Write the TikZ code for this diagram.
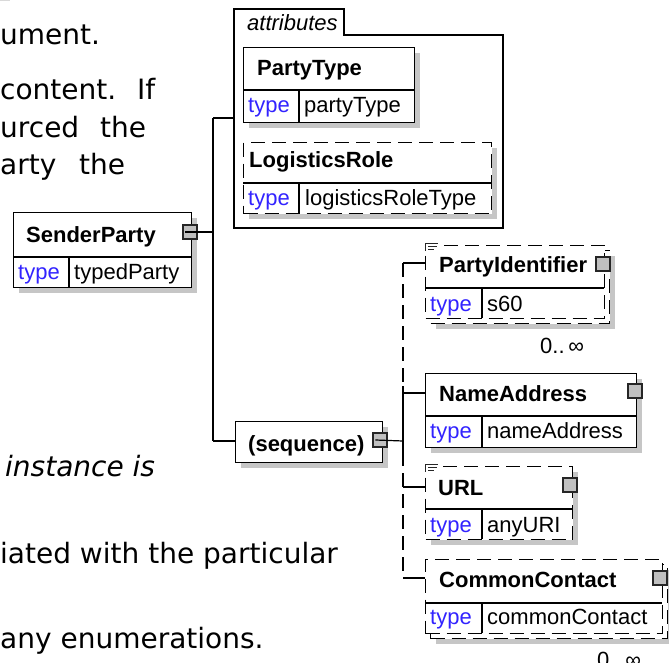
\documentclass[tikz,border=0pt]{standalone}
\usepackage{fontspec}
\newfontfamily\diafont{Liberation Sans}
\newfontfamily\docfont{DejaVu Sans}
\usetikzlibrary{calc,shadows}
\definecolor{typeblue}{RGB}{50,35,255}
\definecolor{shadowgray}{RGB}{198,198,198}
\definecolor{expgray}{RGB}{192,192,192}
\begin{document}
\begin{tikzpicture}[x=1pt,y=-1pt,
  elbox/.style={draw=black, fill=white, line width=1.2pt, inner sep=0, anchor=north west,
     drop shadow={shadow xshift=5pt, shadow yshift=-5pt, fill=shadowgray, opacity=1}},
  plainbox/.style={draw=black, fill=white, line width=1.2pt, inner sep=0, anchor=north west},
  dashbox/.style={dash pattern=on 14pt off 7pt},
  divline/.style={line width=1.1pt},
  conn/.style={line width=1.2pt, draw=black},
  dashconn/.style={line width=1.2pt, draw=black, dash pattern=on 14pt off 7pt},
  expbox/.style={draw=black!85, fill=expgray, line width=1.1pt, minimum width=14pt, minimum height=14pt, inner sep=0},
  ttl/.style={font=\diafont\bfseries\fontsize{22}{26}\selectfont, anchor=base west, inner sep=0},
  typ/.style={font=\diafont\fontsize{22}{26}\selectfont, text=typeblue, anchor=base west, inner sep=0},
  val/.style={font=\diafont\fontsize{22}{26}\selectfont, anchor=base west, inner sep=0},
  attrlbl/.style={font=\diafont\itshape\fontsize{22}{26}\selectfont, anchor=base west, inner sep=0},
  doctext/.style={font=\docfont\fontsize{28}{34}\selectfont, anchor=base west, inner sep=0},
  docit/.style={font=\docfont\itshape\fontsize{28}{34}\selectfont, anchor=base west, inner sep=0},
  docicon/.style={line width=0.9pt, draw=black!85}
]
\useasboundingbox (0,0) rectangle (669,663);
\clip (0,0) rectangle (669,663);

% faint mark at top left
\draw[black!15, line width=1pt] (0,0.5) -- (9,0.5) -- (9,0);

% ---------- document text ----------
\node[doctext] (t1) at (0,45) {ument.};
\node[doctext] (t2a) at (0,100) {content.};
\node[doctext] (t2b) at (137,100) {If};
\node[doctext] (t3a) at (0,138) {urced};
\node[doctext] (t3b) at (100,138) {the};
\node[doctext] (t4a) at (0,175) {arty};
\node[doctext] (t4b) at (79,175) {the};
\node[docit] (t5) at (5,476) {instance is};
\node[doctext] (t6) at (0,563) {iated with the particular};
\node[doctext] (t7) at (0,648) {any enumerations.};

% ---------- SenderParty ----------
\node[elbox, minimum width=178pt, minimum height=75pt] (sp) at (13,212) {};
\draw[divline] (13,257) -- (191,257);
\draw[divline] (69,257) -- (69,287);
\node[ttl] (spt) at (26,242) {SenderParty};
\node[typ] (spk) at (18,279) {type};
\node[val] (spv) at (74,279) {typedParty};
\node[expbox] (spx) at (190,232) {};

% ---------- attributes ----------
\node[minimum width=269pt, minimum height=193pt, inner sep=0, anchor=north west] (attr) at (234,35) {};
\draw[line width=1.2pt, fill=white] (234,9) -- (344,9) -- (344,35) -- (503,35) -- (503,228) -- (234,228) -- cycle;
\node[attrlbl] (attrl) at (247,31) {attributes};

\node[elbox, minimum width=171pt, minimum height=75pt] (pt) at (243,47) {};
\draw[divline] (243,90) -- (414,90);
\draw[divline] (299,90) -- (299,122);
\node[ttl] (ptt) at (257,76) {PartyType};
\node[typ] (ptk) at (248,113) {type};
\node[val] (ptv) at (304,113) {partyType};

\node[elbox, dashbox, minimum width=248pt, minimum height=71pt] (lr) at (243,142) {};
\draw[divline] (243,183) -- (491,183);
\draw[divline] (299,183) -- (299,213);
\node[ttl] (lrt) at (249,168) {LogisticsRole};
\node[typ] (lrk) at (248,205) {type};
\node[val] (lrv) at (305,205) {logisticsRoleType};

% ---------- sequence ----------
\node[elbox, minimum width=147pt, minimum height=41pt] (seq) at (235,421) {};
\node[ttl] (seqt) at (248,451) {(sequence)};
\node[expbox] (seqx) at (380,440) {};

% ---------- PartyIdentifier (stacked, optional) ----------
\node[elbox, dashbox, minimum width=179pt, minimum height=73pt] (piback) at (430,250) {};
\node[plainbox, dashbox, minimum width=179pt, minimum height=73pt] (pi) at (425,245) {};
\draw[divline] (425,288) -- (604,288);
\draw[divline] (482,288) -- (482,318);
\fill[white] (424,241) rectangle (440,252);
\draw[docicon] (425.5,243) -- (425.5,251) (425,243.5) -- (438,243.5) (428,246.5) -- (437,246.5) (428,249.5) -- (434,249.5);
\node[ttl] (pit) at (439,272) {PartyIdentifier};
\node[typ] (pik) at (430,311) {type};
\node[val] (piv) at (487,311) {s60};
\node[expbox] (pix) at (603,264) {};
\node[val] (pim) at (540,353) {0..\,∞};

% ---------- NameAddress ----------
\node[elbox, minimum width=211pt, minimum height=74pt] (na) at (425,373) {};
\draw[divline] (425,416) -- (636,416);
\draw[divline] (482,416) -- (482,447);
\node[ttl] (nat) at (439,401) {NameAddress};
\node[typ] (nak) at (430,438) {type};
\node[val] (nav) at (487,438) {nameAddress};
\node[expbox] (nax) at (635,391) {};

% ---------- URL ----------
\node[elbox, dashbox, minimum width=147pt, minimum height=73pt] (url) at (425,466) {};
\draw[divline] (425,509) -- (572,509);
\draw[divline] (482,509) -- (482,539);
\fill[white] (424,462) rectangle (440,473);
\draw[docicon] (425.5,464) -- (425.5,472) (425,464.5) -- (438,464.5) (428,467.5) -- (437,467.5) (428,470.5) -- (434,470.5);
\node[ttl] (urlt) at (438,495) {URL};
\node[typ] (urlk) at (430,532) {type};
\node[val] (urlv) at (487,532) {anyURI};
\node[expbox] (urlx) at (570,485) {};

% ---------- CommonContact (stacked, optional) ----------
\node[elbox, dashbox, minimum width=237pt, minimum height=74pt] (ccback) at (430,564) {};
\node[plainbox, dashbox, minimum width=237pt, minimum height=74pt] (cc) at (425,559) {};
\draw[divline] (425,603) -- (662,603);
\draw[divline] (482,603) -- (482,633);
\node[ttl] (cct) at (439,587) {CommonContact};
\node[typ] (cck) at (430,624) {type};
\node[val] (ccv) at (487,624) {commonContact};
\node[expbox] (ccx) at (660,578) {};
\node[val] (ccm) at (597,667) {0..\,∞};

% ---------- connectors ----------
\coordinate (j1) at (213,232);
\coordinate (ja) at (213,118);
\coordinate (jb) at (213,441);
\draw[conn] ($(spx.west)+(3,0)$) -- (j1);
\draw[conn] (ja) -- (jb);
\draw[conn] (ja) -- (ja -| attr.west);
\draw[conn] (jb) -- (jb -| seq.west);

\coordinate (k1) at (403,441);
\coordinate (ktop) at (403,263);
\coordinate (kna) at (403,393);
\coordinate (kurl) at (403,487);
\coordinate (kbot) at (403,578);
\coordinate (ks1) at (403,386);
\coordinate (ks2) at (403,465);
\draw[conn] ($(seqx.west)+(3,0)$) -- (k1);
\draw[dashconn] (ktop) -- (kbot);
\draw[conn] (ks1) -- (ks2);
\draw[conn] (ktop) -- (ktop -| pi.west);
\draw[conn] (kna) -- (kna -| na.west);
\draw[conn] (kurl) -- (kurl -| url.west);
\draw[conn] (kbot) -- (kbot -| cc.west);
\end{tikzpicture}
\end{document}
